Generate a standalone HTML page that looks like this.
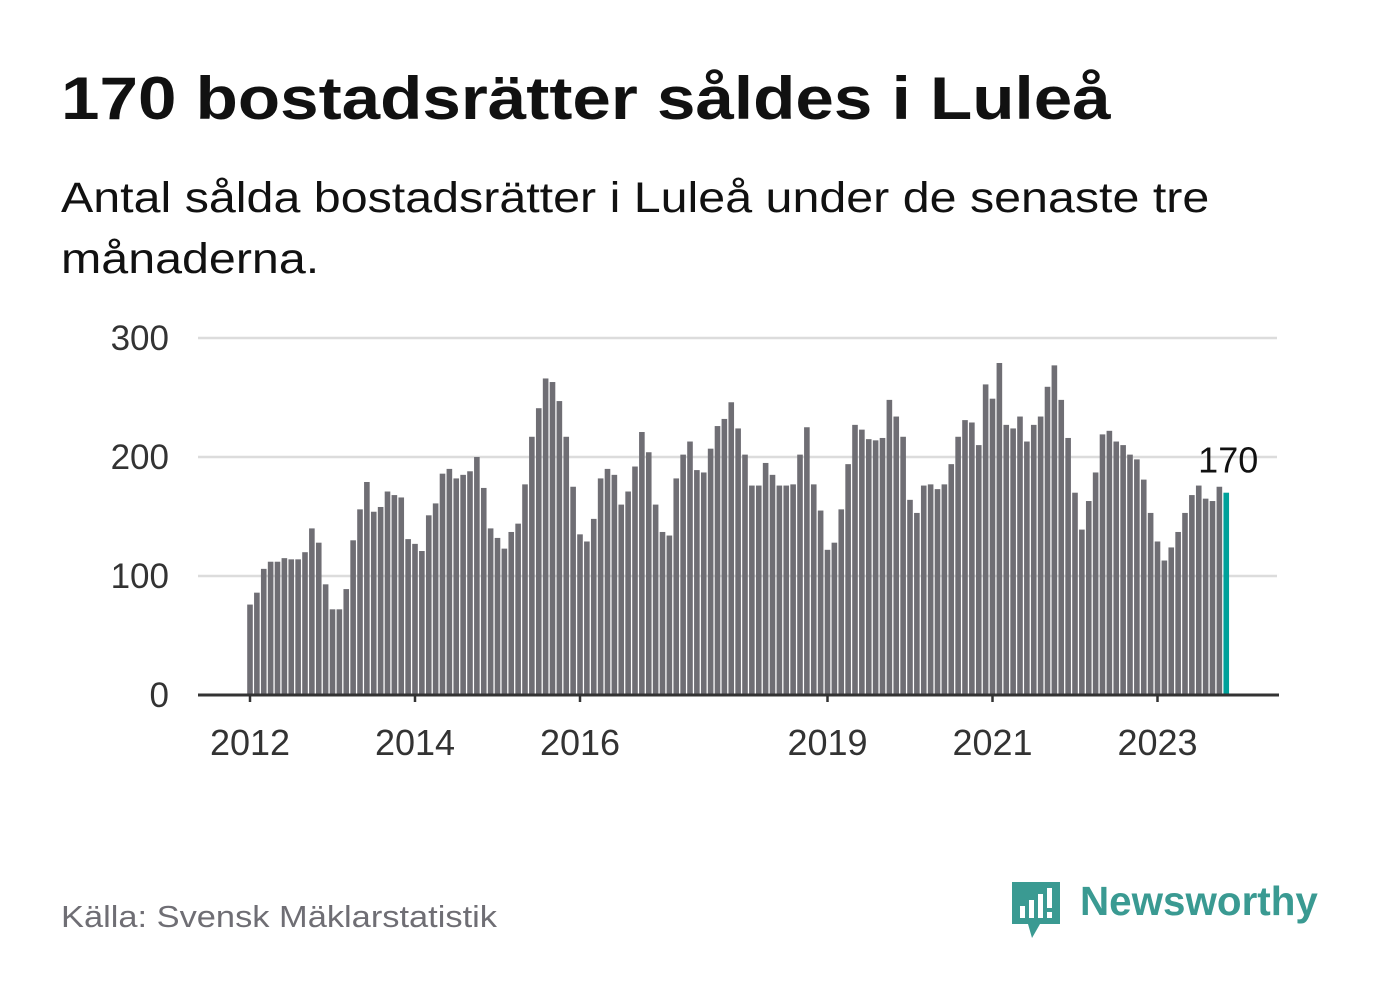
<!DOCTYPE html>
<html><head><meta charset="utf-8"><style>
body{margin:0;background:#fff;font-family:"Liberation Sans","DejaVu Sans",sans-serif;}
#wrap{position:relative;width:1382px;height:999px;overflow:hidden;}
.title{position:absolute;left:61px;top:64px;font-size:60px;font-weight:bold;color:#111;white-space:nowrap;transform:scaleX(1.153);transform-origin:0 0}
.sub{position:absolute;left:61px;top:168px;font-size:43px;line-height:61px;color:#111;width:1080px;transform:scaleX(1.125);transform-origin:0 0}
.src{position:absolute;left:61px;top:899px;font-size:31px;color:#6f6e74;white-space:nowrap;transform:scaleX(1.11);transform-origin:0 0}
.logo{position:absolute;left:1080px;top:878px;font-size:41px;font-weight:bold;color:#3a9a92;white-space:nowrap;transform:scaleX(0.985);transform-origin:0 0}
</style></head><body>
<div id="wrap">
<div class="title">170 bostadsrätter såldes i Luleå</div>
<div class="sub">Antal sålda bostadsrätter i Luleå under de senaste tre månaderna.</div>
<svg id="chart" width="1382" height="999" style="position:absolute;left:0;top:0"></svg>
<div class="src">Källa: Svensk Mäklarstatistik</div>
<svg style="position:absolute;left:1010px;top:880px" width="54" height="60">
<path d="M2 2 H50 V44 H30 L22 58 L18 44 H2 Z" fill="#3a9a92"/>
<rect x="10" y="26" width="5" height="12" fill="#fff"/><rect x="19" y="20" width="5" height="18" fill="#fff"/><rect x="28" y="14" width="5" height="24" fill="#fff"/><rect x="37" y="8" width="5" height="20" fill="#fff"/><rect x="37" y="32" width="5" height="6" fill="#fff"/>
</svg>
<div class="logo">Newsworthy</div>
</div>
<script>
const values = [76,86,106,112,112,115,114,114,120,140,128,93,
72,72,89,130,156,179,154,158,171,168,166,131,
127,121,151,161,186,190,182,185,188,200,174,140,
132,123,137,144,177,217,241,266,263,247,217,175,
135,129,148,182,190,185,160,171,192,221,204,160,
137,134,182,202,213,189,187,207,226,232,246,224,
202,176,176,195,185,176,176,177,202,225,177,155,
122,128,156,194,227,223,215,214,216,248,234,217,
164,153,176,177,173,177,194,217,231,229,210,261,
249,279,227,224,234,213,227,234,259,277,248,216,
170,139,163,187,219,222,213,210,202,198,181,153,
129,113,124,137,153,168,176,165,163,175,170];
const yTicks = [0,100,200,300];
const xTickLabels = ["2012","2014","2016","2019","2021","2023"];
const xTickIndex = [0,24,48,84,108,132];
const lastLabel = "170";

const svg = document.getElementById('chart');
const NS = 'http://www.w3.org/2000/svg';
const x0 = 250, step = 6.875, yBase = 695, yScale = 357/300;
const xs = i => x0 + i*step;
const ys = v => yBase - v*yScale;
function mk(tag, attrs){const e=document.createElementNS(NS,tag);for(const k in attrs)e.setAttribute(k,attrs[k]);svg.appendChild(e);return e;}
yTicks.forEach(t=>{
  if(t>0){const g=mk('line',{x1:198,x2:1277,y1:ys(t),y2:ys(t),stroke:'#dcdcdc','stroke-width':2.5});
  
  }
  const l=mk('text',{x:169,y:ys(t)+12,'text-anchor':'end','font-size':35,fill:'#333','font-family':'Liberation Sans, sans-serif'});
  l.textContent=t;
  
  
});
values.forEach((v,i)=>{
  const last = i===values.length-1;
  const r=mk('rect',{x:xs(i)-2.8,y:ys(v),width:5.6,height:v*yScale,fill:last?'#00a19a':'#6f6e74'});
  
  
});
const ax=mk('line',{x1:198,x2:1279,y1:yBase,y2:yBase,stroke:'#333','stroke-width':3});


xTickIndex.forEach((idx,k)=>{
  const t=mk('line',{x1:xs(idx),x2:xs(idx),y1:yBase,y2:yBase+7,stroke:'#333','stroke-width':2.5});
  
  
  const l=mk('text',{x:xs(idx),y:755,'text-anchor':'middle','font-size':36,fill:'#333','font-family':'Liberation Sans, sans-serif'});
  l.textContent=xTickLabels[k];
  
  
});
const li=values.length-1;
const lb=mk('text',{x:xs(li)+32,y:ys(values[li])-20,'text-anchor':'end','font-size':36,fill:'#111','font-family':'Liberation Sans, sans-serif'});
lb.textContent=lastLabel;


</script>
</body></html>
